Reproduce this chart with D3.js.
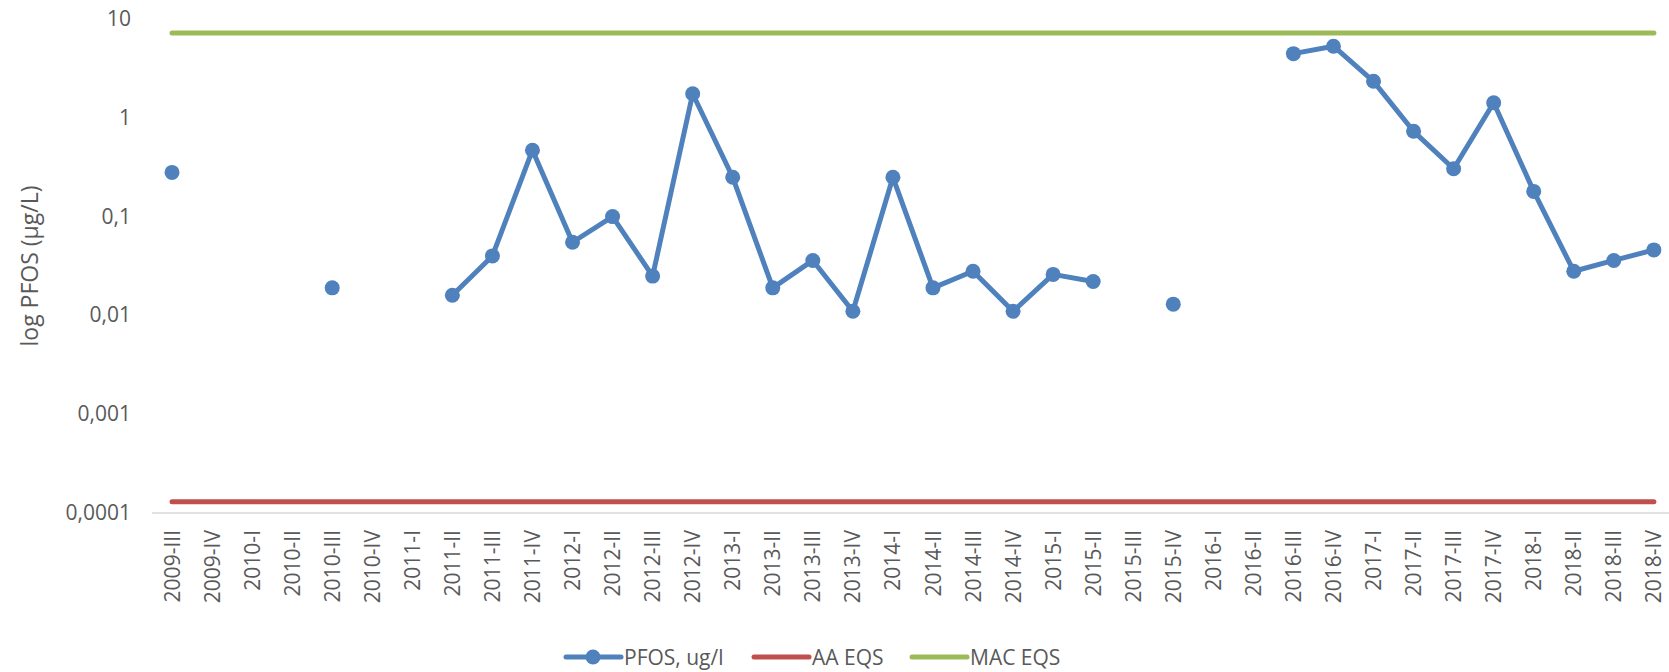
<!DOCTYPE html>
<html><head><meta charset="utf-8">
<script src="https://cdn.jsdelivr.net/npm/d3@7"></script>
<style>
html,body{margin:0;padding:0;background:#fff;}
text{font-family:"Open Sans",sans-serif;fill:#595959;}
</style></head>
<body>
<svg id="chart" width="1669" height="672"></svg>
<script>
const categories = ["2009-III","2009-IV",
 "2010-I","2010-II","2010-III","2010-IV",
 "2011-I","2011-II","2011-III","2011-IV",
 "2012-I","2012-II","2012-III","2012-IV",
 "2013-I","2013-II","2013-III","2013-IV",
 "2014-I","2014-II","2014-III","2014-IV",
 "2015-I","2015-II","2015-III","2015-IV",
 "2016-I","2016-II","2016-III","2016-IV",
 "2017-I","2017-II","2017-III","2017-IV",
 "2018-I","2018-II","2018-III","2018-IV"];
const pfos = [0.28,null,
 null,null,0.019,null,
 null,0.016,0.040,0.47,
 0.055,0.10,0.025,1.75,
 0.25,0.019,0.036,0.011,
 0.25,0.019,0.028,0.011,
 0.026,0.022,null,0.013,
 null,null,4.46,5.3,
 2.34,0.73,0.305,1.42,
 0.18,0.028,0.036,0.046];
const aaEqs = 0.00013;
const macEqs = 7.2;
const yTickValues = [10,1,0.1,0.01,0.001,0.0001];
const yTickLabels = ["10","1","0,1","0,01","0,001","0,0001"];
const seriesNames = ["PFOS, ug/l","AA EQS","MAC EQS"];
const colors = ["#4f81bd","#c0504d","#9bbb59"];

const svg = d3.select("#chart");
const left = 152, step = 40.05;
const x = d3.scaleBand().domain(categories).range([left, left + step*categories.length]);
const cx = c => x(c) + x.bandwidth()/2;
const y = d3.scaleLog().domain([0.0001, 10]).range([513, 19]);

// y tick labels
svg.append("g").selectAll("text").data(yTickValues).join("text")
  .attr("x", 131).attr("y", d => y(d)).attr("dy", "0.33em")
  .attr("text-anchor","end").style("font-size","21px")
  .text((d,i) => yTickLabels[i]);

// y title
svg.append("text")
  .attr("transform","translate(38,266) rotate(-90)")
  .attr("text-anchor","middle").style("font-size","23px")
  .text("log PFOS (µg/L)");

// x axis line
svg.append("line").attr("x1", left).attr("x2", 1669)
  .attr("y1", y(0.0001)).attr("y2", y(0.0001))
  .attr("stroke","#d9d9d9").attr("stroke-width",1.5);

// x labels
svg.append("g").selectAll("text").data(categories).join("text")
  .attr("transform", d => `translate(${cx(d)},530) rotate(-90)`)
  .attr("text-anchor","end").attr("dy","0.36em").style("font-size","21px")
  .text(d => d);

// reference lines
const first = categories[0], last = categories[categories.length-1];
[[aaEqs,colors[1]],[macEqs,colors[2]]].forEach(([v,c]) => {
  svg.append("line").attr("x1", cx(first)).attr("x2", cx(last))
    .attr("y1", y(v)).attr("y2", y(v))
    .attr("stroke", c).attr("stroke-width", 5).attr("stroke-linecap","round");
});

// PFOS series
const pts = categories.map((c,i) => ({c, v: pfos[i]}));
const line = d3.line().defined(d => d.v != null).x(d => cx(d.c)).y(d => y(d.v));
svg.append("path").datum(pts).attr("d", line)
  .attr("fill","none").attr("stroke", colors[0]).attr("stroke-width", 5)
  .attr("stroke-linejoin","round");
svg.append("g").selectAll("circle").data(pts.filter(d => d.v != null)).join("circle")
  .attr("cx", d => cx(d.c)).attr("cy", d => y(d.v)).attr("r", 7.5)
  .attr("fill", colors[0]);

// legend
const ly = 657;
const legendX = [566, 754, 912];
const lg = svg.append("g");
seriesNames.forEach((n,i) => {
  const x0 = legendX[i];
  lg.append("line").attr("x1", x0).attr("x2", x0+55).attr("y1", ly).attr("y2", ly)
    .attr("stroke", colors[i]).attr("stroke-width", 5).attr("stroke-linecap","round");
  if (i === 0) lg.append("circle").attr("cx", x0+27).attr("cy", ly).attr("r", 7.5).attr("fill", colors[0]);
  lg.append("text").attr("x", x0+58).attr("y", ly + 8)
    .style("font-size","21px").text(n);
});
</script>
</body></html>
